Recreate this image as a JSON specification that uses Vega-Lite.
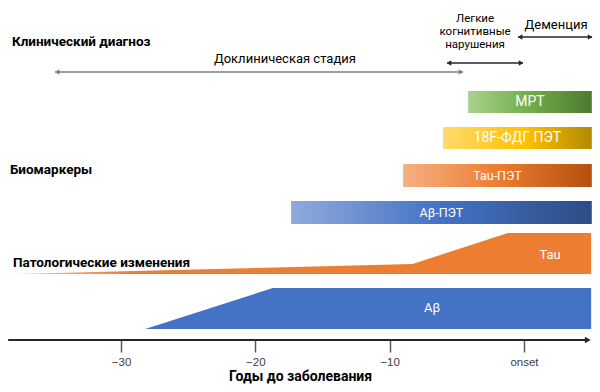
{
  "$schema": "https://vega.github.io/schema/vega-lite/v6.json",
  "width": 600,
  "height": 340,
  "autosize": {"type": "none"},
  "padding": {"left": 0, "top": 0, "right": 0, "bottom": 52},
  "config": {"view": {"stroke": null}, "font": "Roboto"},
  "datasets": {
    "bars": [
      {"marker": "МРТ", "x": -4.16, "x2": 5.05, "y": 249, "y2": 227},
      {"marker": "18F-ФДГ ПЭТ", "x": -6.03, "x2": 5.05, "y": 213, "y2": 191},
      {"marker": "Tau-ПЭТ", "x": -9.0, "x2": 5.05, "y": 176, "y2": 153},
      {"marker": "Aβ-ПЭТ", "x": -17.34, "x2": 5.05, "y": 139, "y2": 116}
    ],
    "pathology": [
      {"series": "Tau", "x": -38.0, "y": 66, "y2": 66},
      {"series": "Tau", "x": -8.3, "y": 76, "y2": 66},
      {"series": "Tau", "x": -1.2, "y": 107, "y2": 66},
      {"series": "Tau", "x": 5.0, "y": 107, "y2": 66},
      {"series": "Aβ", "x": -28.2, "y": 11, "y2": 11},
      {"series": "Aβ", "x": -18.7, "y": 52, "y2": 11},
      {"series": "Aβ", "x": 5.0, "y": 52, "y2": 11}
    ],
    "pathlabels": [
      {"text": "Tau", "x": 1.94, "y": 85},
      {"text": "Aβ", "x": -6.84, "y": 32}
    ],
    "arrows": [
      {"phase": "Доклиническая стадия", "x": -34.9, "x2": -4.54, "y": 268},
      {"phase": "Легкие когнитивные нарушения", "x": -5.73, "x2": -0.07, "y": 277},
      {"phase": "Деменция", "x": -0.44, "x2": 5.07, "y": 303}
    ],
    "phases": [
      {"text": "Доклиническая стадия", "x": -17.8, "y": 281},
      {"text": ["Легкие", "когнитивные", "нарушения"], "x": -3.64, "y": 321},
      {"text": "Деменция", "x": 2.39, "y": 315}
    ],
    "headings": [
      {"text": "Клинический диагноз", "x": -38.12, "y": 298},
      {"text": "Биомаркеры", "x": -38.26, "y": 170},
      {"text": "Патологические изменения", "x": -38.04, "y": 77}
    ],
    "timeline": [
      {"x": -38.4, "x2": 4.75, "y": 0}
    ]
  },
  "encoding": {
    "x": {
      "field": "x",
      "type": "quantitative",
      "scale": {"domain": [-39.01, 5.66], "nice": false, "zero": false},
      "axis": {
        "values": [-30, -20, -10, 0],
        "domain": false,
        "grid": false,
        "ticks": true,
        "tickSize": 12,
        "tickColor": "#595959",
        "tickWidth": 1.5,
        "labelFont": "Liberation Sans",
        "labelFontSize": 11.5,
        "labelColor": "#404040",
        "labelPadding": 4,
        "labelExpr": "datum.value === 0 ? 'onset' : datum.label",
        "title": "Годы до заболевания",
        "titleFont": "Roboto",
        "titleFontSize": 14,
        "titleFontWeight": "bold",
        "titleColor": "#000000",
        "titlePadding": 2
      }
    },
    "y": {
      "field": "y",
      "type": "quantitative",
      "scale": {"domain": [0, 340], "nice": false, "zero": false},
      "axis": null
    }
  },
  "layer": [
    {
      "data": {"name": "bars"},
      "transform": [{"filter": "datum.marker === 'МРТ'"}],
      "mark": {"type": "rect", "fill": {"gradient": "linear", "stops": [{"offset": 0, "color": "#a9d18e"}, {"offset": 0.5, "color": "#70ad47"}, {"offset": 1, "color": "#4e7a30"}]}},
      "encoding": {"x2": {"field": "x2"}, "y2": {"field": "y2"}}
    },
    {
      "data": {"name": "bars"},
      "transform": [{"filter": "datum.marker === '18F-ФДГ ПЭТ'"}],
      "mark": {"type": "rect", "fill": {"gradient": "linear", "stops": [{"offset": 0, "color": "#ffdb6e"}, {"offset": 0.55, "color": "#ffc000"}, {"offset": 1, "color": "#b38a00"}]}},
      "encoding": {"x2": {"field": "x2"}, "y2": {"field": "y2"}}
    },
    {
      "data": {"name": "bars"},
      "transform": [{"filter": "datum.marker === 'Tau-ПЭТ'"}],
      "mark": {"type": "rect", "fill": {"gradient": "linear", "stops": [{"offset": 0, "color": "#f4b183"}, {"offset": 0.5, "color": "#ed7d31"}, {"offset": 1, "color": "#b5500f"}]}},
      "encoding": {"x2": {"field": "x2"}, "y2": {"field": "y2"}}
    },
    {
      "data": {"name": "bars"},
      "transform": [{"filter": "datum.marker === 'Aβ-ПЭТ'"}],
      "mark": {"type": "rect", "fill": {"gradient": "linear", "stops": [{"offset": 0, "color": "#8faadc"}, {"offset": 0.5, "color": "#4472c4"}, {"offset": 1, "color": "#2d4d87"}]}},
      "encoding": {"x2": {"field": "x2"}, "y2": {"field": "y2"}}
    },
    {
      "data": {"name": "bars"},
      "transform": [
        {"calculate": "(datum.x + datum.x2) / 2", "as": "xm"},
        {"calculate": "(datum.y + datum.y2) / 2", "as": "ym"}
      ],
      "mark": {"type": "text", "color": "#ffffff", "font": "Roboto", "align": "center", "baseline": "middle"},
      "encoding": {
        "x": {"field": "xm", "type": "quantitative"},
        "y": {"field": "ym", "type": "quantitative"},
        "text": {"field": "marker"},
        "size": {"condition": {"test": "datum.marker === 'МРТ' || datum.marker === '18F-ФДГ ПЭТ'", "value": 14}, "value": 12.5}
      }
    },
    {
      "data": {"name": "pathology"},
      "transform": [{"filter": "datum.series === 'Tau'"}],
      "mark": {"type": "area", "fill": {"gradient": "linear", "stops": [{"offset": 0, "color": "#f8cbad"}, {"offset": 0.2, "color": "#ed7d31"}, {"offset": 1, "color": "#ed7d31"}]}},
      "encoding": {"y2": {"field": "y2"}}
    },
    {
      "data": {"name": "pathology"},
      "transform": [{"filter": "datum.series === 'Aβ'"}],
      "mark": {"type": "area", "fill": "#4472c4"},
      "encoding": {"y2": {"field": "y2"}}
    },
    {
      "data": {"name": "pathlabels"},
      "mark": {"type": "text", "color": "#ffffff", "fontSize": 13, "font": "Roboto", "align": "center", "baseline": "middle"},
      "encoding": {"text": {"field": "text"}}
    },
    {
      "data": {"name": "arrows"},
      "mark": {"type": "rule", "strokeWidth": 1.5},
      "encoding": {
        "x2": {"field": "x2"},
        "color": {"field": "phase", "type": "nominal", "scale": {"domain": ["Доклиническая стадия", "Легкие когнитивные нарушения", "Деменция"], "range": ["#7f7f7f", "#262626", "#262626"]}, "legend": null}
      }
    },
    {
      "data": {"name": "arrows"},
      "mark": {"type": "point", "shape": "triangle-left", "filled": true, "size": 28, "opacity": 1, "xOffset": 2},
      "encoding": {
        "color": {"field": "phase", "type": "nominal", "legend": null}
      }
    },
    {
      "data": {"name": "arrows"},
      "mark": {"type": "point", "shape": "triangle-right", "filled": true, "size": 28, "opacity": 1, "xOffset": -2},
      "encoding": {
        "x": {"field": "x2", "type": "quantitative"},
        "color": {"field": "phase", "type": "nominal", "legend": null}
      }
    },
    {
      "data": {"name": "phases"},
      "mark": {"type": "text", "color": "#000000", "fontSize": 11.5, "font": "Roboto", "align": "center", "baseline": "middle", "lineHeight": 13},
      "encoding": {
        "text": {"field": "text"},
        "size": {"condition": {"test": "datum.text === 'Доклиническая стадия' || datum.text === 'Деменция'", "value": 13}, "value": 11.5}
      }
    },
    {
      "data": {"name": "headings"},
      "mark": {"type": "text", "color": "#000000", "fontSize": 13.5, "font": "Roboto", "fontWeight": "bold", "align": "left", "baseline": "middle"},
      "encoding": {"text": {"field": "text"}}
    },
    {
      "data": {"name": "timeline"},
      "mark": {"type": "rule", "strokeWidth": 2, "color": "#262626"},
      "encoding": {"x2": {"field": "x2"}}
    },
    {
      "data": {"name": "timeline"},
      "mark": {"type": "point", "shape": "triangle-right", "filled": true, "size": 45, "opacity": 1, "color": "#262626"},
      "encoding": {"x": {"field": "x2", "type": "quantitative"}}
    }
  ]
}
